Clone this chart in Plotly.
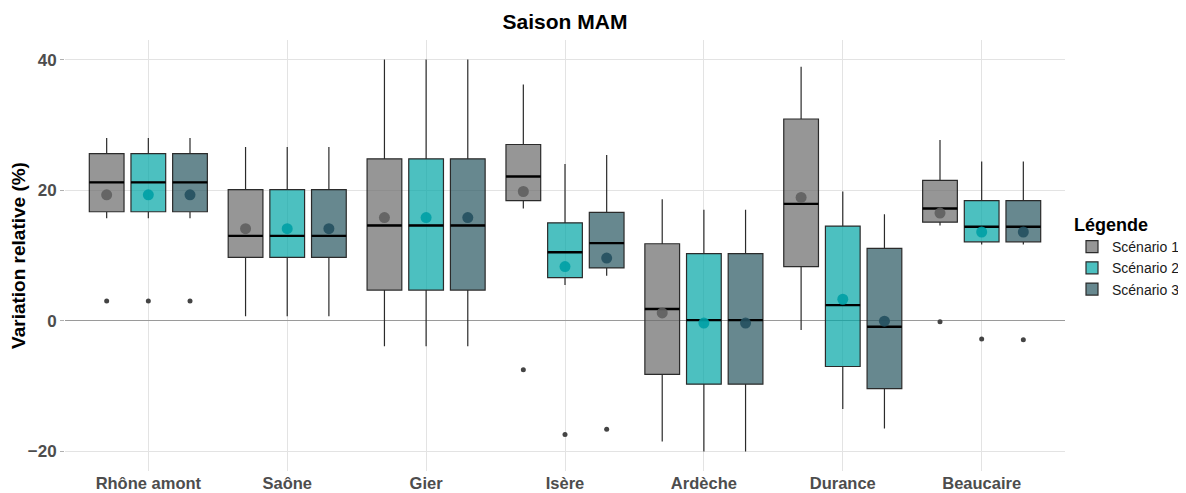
import plotly.graph_objects as go

categories = ["Rhône amont", "Saône", "Gier", "Isère", "Ardèche", "Durance", "Beaucaire"]
scenarios = ["Scénario 1", "Scénario 2", "Scénario 3"]

# box statistics per scenario, one value per category
lower = {
    "Scénario 1": [15.7, 0.7, -3.9, 17.2, -18.5, -1.4, 14.6],
    "Scénario 2": [15.7, 0.7, -3.9, 5.5, -20.0, -13.5, 11.7],
    "Scénario 3": [15.7, 0.7, -3.9, 6.9, -20.0, -16.5, 11.7],
}
q1 = {
    "Scénario 1": [16.7, 9.7, 4.7, 18.4, -8.2, 8.3, 15.1],
    "Scénario 2": [16.7, 9.7, 4.7, 6.6, -9.7, -7.0, 12.1],
    "Scénario 3": [16.7, 9.7, 4.7, 8.1, -9.7, -10.4, 12.1],
}
median = {
    "Scénario 1": [21.2, 13.0, 14.6, 22.1, 1.8, 17.9, 17.2],
    "Scénario 2": [21.2, 13.0, 14.6, 10.5, 0.1, 2.4, 14.4],
    "Scénario 3": [21.2, 13.0, 14.6, 11.9, 0.1, -0.9, 14.4],
}
q3 = {
    "Scénario 1": [25.6, 20.1, 24.8, 27.0, 11.8, 30.9, 21.5],
    "Scénario 2": [25.6, 20.1, 24.8, 15.0, 10.3, 14.5, 18.4],
    "Scénario 3": [25.6, 20.1, 24.8, 16.6, 10.3, 11.1, 18.4],
}
upper = {
    "Scénario 1": [28.0, 26.6, 40.0, 36.2, 18.6, 38.9, 27.7],
    "Scénario 2": [28.0, 26.6, 40.0, 24.0, 17.0, 19.8, 24.4],
    "Scénario 3": [28.0, 26.6, 40.0, 25.4, 17.0, 16.3, 24.4],
}
means = {
    "Scénario 1": [19.3, 14.1, 15.8, 19.8, 1.2, 18.9, 16.5],
    "Scénario 2": [19.3, 14.1, 15.8, 8.3, -0.35, 3.3, 13.6],
    "Scénario 3": [19.3, 14.1, 15.8, 9.6, -0.35, -0.05, 13.6],
}
# outliers: (category index, value)
outliers = {
    "Scénario 1": [(0, 3.05), (3, -7.5), (6, -0.15)],
    "Scénario 2": [(0, 3.05), (3, -17.4), (6, -2.8)],
    "Scénario 3": [(0, 3.05), (3, -16.6), (6, -2.9)],
}

fill_colors = {"Scénario 1": "rgba(105,105,105,0.7)", "Scénario 2": "rgba(0,165,165,0.7)",
               "Scénario 3": "rgba(39,86,95,0.7)"}
mean_colors = {"Scénario 1": "rgba(95,95,95,0.9)", "Scénario 2": "rgba(0,160,165,0.9)",
               "Scénario 3": "rgba(35,80,95,0.9)"}

OFFSET = 0.30
WIDTH = 0.25
FONT = "Liberation Sans, Arial, sans-serif"
# the page body adds an 8px margin around the figure
W, H = 1178, 485

fig = go.Figure()
for j, s in enumerate(scenarios):
    xs = [i + (j - 1) * OFFSET for i in range(len(categories))]
    fig.add_trace(go.Box(
        name=s, x=xs, q1=q1[s], median=median[s], q3=q3[s],
        lowerfence=lower[s], upperfence=upper[s],
        width=WIDTH, whiskerwidth=0, boxpoints=False,
        fillcolor=fill_colors[s], line=dict(color="#2b2b2b", width=1.2),
        hoverinfo="y",
    ))
    # thicker median segments
    mx, my = [], []
    for x, m in zip(xs, median[s]):
        mx += [x - WIDTH / 2, x + WIDTH / 2, None]
        my += [m, m, None]
    fig.add_trace(go.Scatter(x=mx, y=my, mode="lines", line=dict(color="#000000", width=2.4),
                             showlegend=False, hoverinfo="skip"))
    # means
    fig.add_trace(go.Scatter(x=xs, y=means[s], mode="markers",
                             marker=dict(size=11, color=mean_colors[s]),
                             showlegend=False, hoverinfo="y"))
    # outliers
    ox = [i + (j - 1) * OFFSET for i, _ in outliers[s]]
    oy = [v for _, v in outliers[s]]
    fig.add_trace(go.Scatter(x=ox, y=oy, mode="markers",
                             marker=dict(size=5, color="#444444"),
                             showlegend=False, hoverinfo="y"))

fig.update_layout(
    width=W, height=H,
    margin=dict(l=57, r=121, t=32, b=22, autoexpand=False),
    plot_bgcolor="white", paper_bgcolor="white",
    font=dict(family=FONT, color="#4d4d4d"),
    title=dict(text="<b>Saison MAM</b>", x=0.5, xref="paper", y=1 - 14 / H, yref="container",
               yanchor="middle", automargin=False,
               font=dict(size=21, color="#000000", family=FONT)),
    legend=dict(title=dict(text="<b>Légende</b>", font=dict(size=18, color="#000000")),
                x=1.007, xanchor="left", y=0.611, yanchor="top",
                font=dict(size=14, color="#1a1a1a"), tracegroupgap=0, itemwidth=30),
    showlegend=True,
)
fig.update_xaxes(
    range=[-0.6, len(categories) - 0.4], automargin=False,
    tickvals=list(range(len(categories))), ticktext=[f"<b>{c}</b>" for c in categories],
    tickfont=dict(size=16.5, color="#4d4d4d"),
    showgrid=True, gridcolor="#e3e3e3", gridwidth=1, zeroline=False,
    ticks="", showline=False,
)
fig.update_yaxes(
    range=[-23, 43], automargin=False, tickvals=[-20, 0, 20, 40],
    ticktext=["<b>−20</b>", "<b>0</b>", "<b>20</b>", "<b>40</b>"],
    tickfont=dict(size=17, color="#4d4d4d"),
    showgrid=True, gridcolor="#e3e3e3", gridwidth=1,
    zeroline=True, zerolinecolor="#9a9a9a", zerolinewidth=1,
    ticks="outside", ticklen=4, tickcolor="#b0b0b0",
    title=dict(text="<b>Variation relative (%)</b>", font=dict(size=19, color="#000000"), standoff=6),
)

fig.write_html("out.html")
